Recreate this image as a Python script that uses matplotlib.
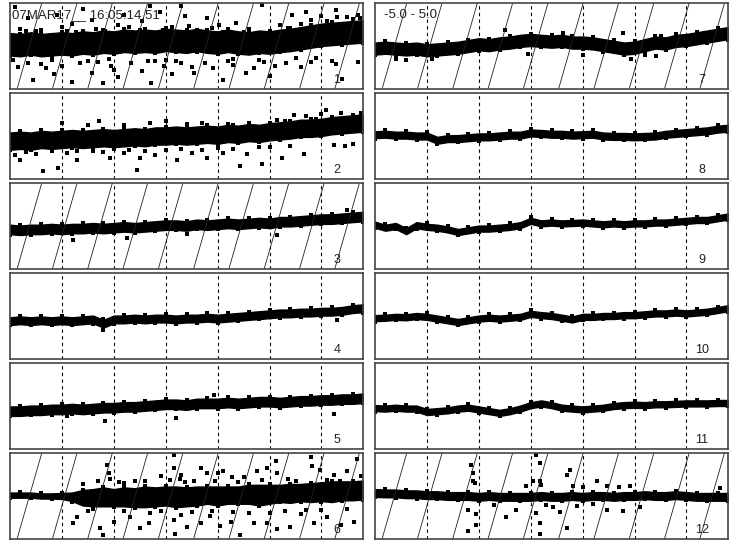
import numpy as np
import matplotlib.pyplot as plt

plt.rcParams['font.family'] = ['Liberation Sans', 'DejaVu Sans']

# x positions of the trend samples and dashed grid lines
x = np.round(np.arange(0, 6.81, 0.2), 1)
grid_x = [1, 2, 3, 4, 5, 6]

# centre of the dense band in each panel (-5 .. 5 scale)
p1_center = [0.2, 0.1, 0.3, 0.1, 0.2, 0.3, 0.2, 0.4, 0.3, 0.5, 0.4, 0.6, 0.5, 0.6, 0.5, 0.7, 0.6, 0.5,
             0.7, 0.5, 0.4, 0.6, 0.4, 0.3, 0.5, 0.4, 0.6, 0.7, 0.9, 1.1, 1.3, 1.4, 1.5, 1.6, 1.7]
p2_center = [-0.6, -0.5, -0.6, -0.4, -0.5, -0.4, -0.3, -0.4, -0.3, -0.2, -0.3, -0.2, -0.1, -0.2, 0.0, 0.0,
             0.1, 0.0, 0.1, 0.2, 0.1, 0.3, 0.2, 0.4, 0.3, 0.5, 0.6, 0.7, 0.9, 0.9, 1.0, 1.2, 1.3, 1.4, 1.5]
p3_center = [-0.4, -0.5, -0.4, -0.4, -0.3, -0.4, -0.3, -0.3, -0.2, -0.3, -0.2, -0.1, -0.2, -0.1, 0.0, 0.1,
             0.1, 0.0, 0.2, 0.1, 0.2, 0.3, 0.2, 0.3, 0.4, 0.3, 0.5, 0.5, 0.6, 0.7, 0.8, 0.8, 0.9, 1.0, 1.1]
p4_center = [-0.6, -0.5, -0.6, -0.5, -0.6, -0.5, -0.6, -0.5, -0.4, -0.9, -0.4, -0.4, -0.3, -0.4, -0.3, -0.3,
             -0.4, -0.3, -0.3, -0.2, -0.3, -0.2, -0.1, 0.0, 0.1, 0.2, 0.3, 0.3, 0.4, 0.4, 0.5, 0.5, 0.6, 0.8, 0.9]
p5_center = [-0.6, -0.6, -0.5, -0.5, -0.4, -0.4, -0.3, -0.4, -0.3, -0.2, -0.2, -0.1, -0.1, 0.0, 0.1, 0.2,
             0.2, 0.1, 0.3, 0.3, 0.3, 0.4, 0.3, 0.4, 0.5, 0.5, 0.4, 0.5, 0.6, 0.6, 0.7, 0.7, 0.8, 0.8, 0.9]
p6_center = [0.1, 0.1, 0.1, 0.0, 0.0, 0.0, -0.1, -0.2, -0.2, -0.1, -0.2, -0.1, -0.2, -0.1, -0.1, 0.0,
             -0.1, -0.1, 0.0, 0.1, 0.0, 0.1, 0.1, 0.2, 0.1, 0.2, 0.3, 0.3, 0.4, 0.4, 0.5, 0.5, 0.6, 0.6, 0.7]
p7_center = [-0.3, -0.2, -0.3, -0.4, -0.3, -0.5, -0.4, -0.3, -0.2, 0.0, 0.2, 0.1, 0.3, 0.4, 0.6, 0.7,
             0.6, 0.5, 0.6, 0.4, 0.4, 0.3, 0.1, -0.1, -0.3, -0.2, 0.1, 0.4, 0.3, 0.6, 0.7, 0.9, 1.1, 1.3, 1.5]
p8_center = [0.15, 0.2, 0.1, 0.1, 0.0, 0.0, -0.5, -0.3, -0.3, -0.2, -0.1, -0.1, 0.0, 0.1, 0.1, 0.35,
             0.3, 0.2, 0.2, 0.1, 0.15, 0.2, 0.0, -0.05, -0.05, -0.1, -0.05, 0.0, 0.2, 0.3, 0.4, 0.5, 0.6, 0.8, 0.9]
p9_center = [0.15, -0.2, 0.0, -0.6, 0.1, -0.1, -0.2, -0.4, -0.7, -0.5, -0.3, -0.3, -0.2, -0.1, 0.1, 0.6,
             0.3, 0.4, 0.3, 0.35, 0.4, 0.3, 0.2, 0.3, 0.2, 0.3, 0.3, 0.4, 0.4, 0.5, 0.6, 0.7, 0.7, 0.9, 1.1]
p10_center = [-0.25, -0.2, -0.1, -0.15, 0.0, -0.1, -0.3, -0.5, -0.7, -0.5, -0.3, -0.2, -0.3, -0.2, -0.1, 0.25,
              0.1, 0.0, -0.2, -0.4, -0.1, -0.1, 0.0, 0.0, 0.1, 0.1, 0.2, 0.3, 0.3, 0.4, 0.3, 0.4, 0.5, 0.7, 0.9]
p11_center = [-0.25, -0.3, -0.2, -0.3, -0.3, -0.7, -0.6, -0.5, -0.3, -0.2, -0.4, -0.6, -0.8, -0.6, -0.3, 0.1,
              0.3, 0.1, -0.2, -0.3, -0.4, -0.3, -0.2, 0.0, 0.1, 0.15, 0.1, 0.2, 0.2, 0.25, 0.3, 0.3, 0.3, 0.35, 0.35]
p12_center = [0.35, 0.3, 0.3, 0.2, 0.2, 0.1, 0.1, 0.0, 0.0, 0.0, -0.1, 0.0, -0.1, -0.1, -0.1, -0.1,
              0.0, -0.1, -0.1, 0.0, -0.1, 0.0, 0.0, -0.1, 0.0, 0.0, 0.1, 0.0, 0.0, 0.1, 0.0, -0.1, -0.1, -0.1, -0.1]

# half thickness of the dense band
p6_spread = [0.3, 0.3, 0.3, 0.3, 0.3, 0.35, 0.5, 0.9, 1.0, 1.1, 1.0, 1.1, 1.1, 1.2, 1.1, 1.1, 1.2, 1.1,
             1.1, 1.0, 1.1, 1.0, 1.0, 1.1, 1.2, 1.1, 1.0, 1.1, 1.0, 1.1, 1.1, 1.2, 1.1, 1.1, 1.1]
spreads = [1.3, 1.0, 0.55, 0.45, 0.55, p6_spread, 0.7, 0.4, 0.35, 0.35, 0.35, 0.45]

# stray points outside the band
p1_scatter = [(0.6, 1.9), (1.0, 2.2), (1.28, 1.6), (1.57, 3.0), (1.83, 1.7), (2.08, 2.4), (2.34, 1.6),
              (2.54, 2.9), (2.7, 4.6), (2.89, 4.0), (3.12, 2.2), (3.3, 4.7), (3.37, 3.5), (4.02, 2.4),
              (4.1, 1.6), (4.5, 1.6), (4.35, 2.7), (4.86, 4.8), (5.44, 3.6), (5.7, 4.0), (5.79, 3.0),
              (6.0, 3.5), (6.28, 4.2), (6.3, 3.4), (6.4, 2.6), (6.6, 3.1), (6.7, 3.6), (0.2, 2.0),
              (0.35, 3.2), (0.9, 3.6), (1.4, 4.3), (2.2, 3.6), (3.8, 3.3), (5.2, 2.4), (0.1, 4.5),
              (0.15, -2.4), (0.35, -2.0), (0.6, -2.1), (0.85, -3.3), (1.0, -2.3), (1.2, -4.2), (1.35, -2.0),
              (1.57, -3.1), (1.8, -4.3), (1.95, -2.3), (2.08, -3.6), (2.34, -2.0), (2.54, -2.9), (2.72, -4.3),
              (2.97, -2.3), (3.12, -3.3), (3.3, -2.0), (3.55, -3.1), (3.75, -2.0), (3.92, -2.6), (4.1, -4.0),
              (4.3, -2.2), (4.55, -3.1), (4.7, -2.6), (5.0, -3.5), (5.31, -2.0), (5.6, -2.4), (5.8, -1.9),
              (6.2, -1.7), (6.28, -2.1), (6.4, -3.8), (6.7, -1.9), (0.45, -4.0), (1.7, -1.9), (2.8, -1.8),
              (4.9, -1.9), (0.3, 1.7), (0.8, -1.6), (1.1, 1.7), (1.9, -1.5), (2.5, 1.9), (3.0, -1.6),
              (3.6, 1.9), (4.3, -1.5), (5.0, 1.8), (5.5, -1.4), (0.05, -1.6), (0.5, 1.8), (0.7, -2.6),
              (1.2, 2.6), (1.5, -1.7), (1.65, 2.0), (2.0, -2.8), (2.3, 2.2), (2.65, -1.7), (2.95, 1.9),
              (3.2, -1.7), (3.45, 2.3), (3.5, -2.4), (3.9, 2.1), (4.2, -1.7), (4.6, 2.0), (4.8, -1.6),
              (5.1, -2.3), (5.35, 2.1), (5.6, 2.6), (5.9, -1.4), (6.1, 2.9), (6.5, 3.4), (6.75, 3.3)]
p2_scatter = [(1.0, 1.5), (1.71, 1.7), (1.5, 1.3), (2.7, 1.5), (3.0, 1.7), (3.4, 1.4), (5.15, 1.9),
              (5.47, 2.5), (5.7, 2.3), (5.9, 2.0), (6.08, 3.05), (6.0, 2.6), (6.37, 2.7), (6.76, 2.7),
              (4.3, 1.3), (4.6, 1.5), (0.19, -2.75), (0.1, -2.2), (0.64, -4.1), (0.93, -3.7), (0.5, -2.1),
              (1.29, -2.75), (1.1, -2.0), (1.93, -2.5), (2.2, -2.0), (2.44, -3.9), (2.5, -2.6), (2.8, -2.2),
              (3.22, -2.75), (3.5, -2.0), (3.8, -2.5), (4.1, -2.0), (4.44, -3.5), (4.56, -2.1), (4.86, -3.2),
              (5.24, -2.5), (5.66, -2.1), (6.24, -1.0), (6.6, -0.9), (6.45, -1.2), (0.4, -1.6), (1.6, -1.7),
              (3.0, -1.6), (2.0, -1.5), (4.0, -1.4), (5.0, -1.3), (0.3, -1.9), (0.8, -1.7), (1.3, -1.8),
              (1.8, -1.9), (2.3, -1.6), (2.6, -1.7), (3.3, -1.5), (3.7, -1.6), (4.3, -1.5), (4.8, -1.3),
              (5.4, -1.2), (2.2, 1.3), (3.7, 1.5), (5.3, 1.8), (6.6, 2.3), (6.2, 2.1)]
p3_scatter = [(1.22, -1.6), (2.25, -1.4), (5.15, -1.0), (6.5, 1.9), (3.4, -0.9)]
p4_scatter = [(1.8, -1.6), (6.3, -0.5)]
p5_scatter = [(3.93, 1.3), (3.19, -1.4), (1.83, -1.7), (6.24, -0.9), (1.1, -1.2)]
p6_scatter = [(1.87, 3.6), (1.9, 2.7), (1.93, 2.0), (1.7, 1.8), (3.15, 4.8), (3.15, 3.3), (3.09, 1.9),
              (3.28, 2.0), (3.38, 1.6), (3.67, 3.3), (3.8, 2.7), (4.0, 2.7), (4.1, 2.9), (4.27, 2.2),
              (4.5, 2.2), (4.76, 2.9), (4.96, 3.3), (5.12, 4.1), (5.15, 2.7), (5.35, 2.0), (5.79, 4.5),
              (5.82, 3.5), (5.98, 3.0), (6.24, 2.4), (6.69, 4.3), (6.5, 2.9), (6.76, 2.3), (2.4, 1.7),
              (2.9, 2.3), (1.4, 1.4), (2.2, 1.5), (1.29, -2.4), (1.22, -3.1), (1.74, -3.7), (1.8, -4.5),
              (2.0, -3.0), (2.32, -2.4), (2.51, -3.7), (2.67, -3.1), (3.15, -2.8), (3.18, -4.4), (3.4, -3.6),
              (3.67, -3.1), (3.86, -2.3), (4.05, -3.5), (4.25, -3.0), (4.44, -4.5), (4.7, -3.1), (4.96, -3.1),
              (5.15, -3.8), (5.4, -3.6), (5.6, -2.1), (5.85, -3.1), (6.1, -2.4), (6.37, -3.4), (6.63, -3.0),
              (1.5, -1.8), (2.7, -2.0), (3.5, -1.9), (4.6, -2.0), (5.3, -1.7), (6.0, -1.6), (1.6, -1.5),
              (2.1, 1.6), (2.6, 1.8), (3.3, 2.4), (3.55, 1.7), (3.95, 1.8), (4.4, 1.6), (4.85, 1.9),
              (5.5, 1.8), (6.1, 1.9), (6.35, 1.7), (2.2, -1.8), (2.9, -1.7), (3.3, -2.2), (3.9, -1.8),
              (4.3, -1.9), (5.0, -2.0), (5.7, -1.6), (6.5, -1.5)]
p7_scatter = [(2.5, 1.9), (3.62, 1.5), (4.78, 1.5), (4.94, -1.5), (5.42, -1.2), (5.5, 1.2), (2.95, -0.9),
              (0.6, -1.6), (0.4, -1.5), (1.1, -1.5), (4.0, -1.0), (5.2, -1.0)]
p12_scatter = [(1.85, 3.6), (1.88, 2.7), (1.88, 1.8), (1.93, 1.5), (1.79, -1.6), (1.95, -2.1), (1.95, -3.4),
               (1.8, -4.1), (3.1, 4.8), (3.17, 3.8), (3.04, 1.8), (3.17, 1.8), (3.2, 1.3), (3.1, -2.0),
               (3.17, -3.1), (3.17, -4.4), (3.69, 2.5), (3.75, 3.0), (3.82, 1.2), (4.0, 1.0), (4.27, 1.8),
               (4.46, 1.2), (4.7, 1.0), (4.91, 1.2), (3.43, -1.3), (3.56, -1.9), (2.53, -2.4), (2.72, -1.6),
               (3.69, -3.7), (4.46, -1.6), (4.78, -1.7), (5.1, -1.3), (6.65, 0.9), (2.3, -1.0), (3.3, -1.0),
               (3.9, -1.2), (4.2, -0.9), (2.9, 1.2)]

centers = [p1_center, p2_center, p3_center, p4_center, p5_center, p6_center,
           p7_center, p8_center, p9_center, p10_center, p11_center, p12_center]
scatters = [p1_scatter, p2_scatter, p3_scatter, p4_scatter, p5_scatter, p6_scatter,
            p7_scatter, [], [], [], [], p12_scatter]
hatched = [1, 3, 6, 7, 12]

W, H = 736, 552
fig = plt.figure(figsize=(W / 100, H / 100), dpi=100)

for i in range(12):
    col, row = divmod(i, 6)
    left = 10 if col == 0 else 375
    top = 3 + 90 * row
    ax = fig.add_axes([left / W, 1 - (top + 86) / H, 353 / W, 86 / H])
    ax.set_xlim(0, 6.8)
    ax.set_ylim(-5, 5)
    ax.set_xticks(grid_x)
    ax.set_yticks([])
    ax.tick_params(length=0, labelbottom=False)
    ax.grid(axis='x', color='k', ls=(0, (3, 3)), lw=0.8)

    c = np.array(centers[i])
    s = np.broadcast_to(np.array(spreads[i]), c.shape)
    ax.fill_between(x, c - s, c + s, color='k', lw=1.0)
    # slightly blocky edges like the square point markers
    ax.scatter(x[1::2], (c + s)[1::2] + 0.05, marker='s', s=6, c='k', lw=0)
    ax.scatter(x[::2], (c - s)[::2] - 0.05, marker='s', s=6, c='k', lw=0)
    if scatters[i]:
        px, py = zip(*scatters[i])
        ax.scatter(px, py, marker='s', s=11, c='k', lw=0)

    if i + 1 in hatched:
        for k in range(-1, 11):
            ax.plot([0.02 + k * 0.1, 0.09 + k * 0.1], [0, 1], transform=ax.transAxes,
                    color='#222222', lw=0.6)

    ax.text(6.3, -4.0, str(i + 1), ha='center', va='center', fontsize=9, color='#222222')
    for sp in ax.spines.values():
        sp.set_color('#444444')
        sp.set_linewidth(1.2)

fig.text(12 / W, 1 - 15 / H, '07MAR17__ 16:05:14.51', fontsize=9.5, va='center', color='#222222')
fig.text(384 / W, 1 - 15 / H, '-5.0 - 5.0', fontsize=9.5, va='center', color='#222222')

fig.savefig('out.png', dpi=100)
